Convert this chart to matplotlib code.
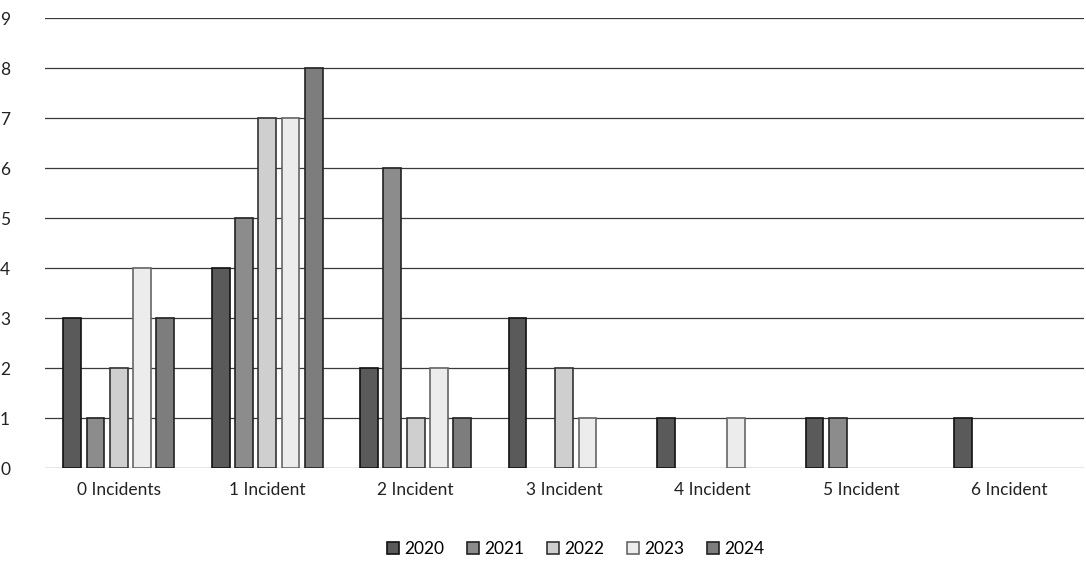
import numpy as np
import matplotlib
matplotlib.use("Agg")
import matplotlib.pyplot as plt

categories = ["0 Incidents", "1 Incident", "2 Incident", "3 Incident",
              "4 Incident", "5 Incident", "6 Incident"]
years = ["2020", "2021", "2022", "2023", "2024"]
v2020 = [3, 4, 2, 3, 1, 1, 1]
v2021 = [1, 5, 6, 0, 0, 1, 0]
v2022 = [2, 7, 1, 2, 0, 0, 0]
v2023 = [4, 7, 2, 1, 1, 0, 0]
v2024 = [3, 8, 1, 0, 0, 0, 0]
series = [v2020, v2021, v2022, v2023, v2024]

fills = ["#5a5a5a", "#8c8c8c", "#cfcfcf", "#ececec", "#7d7d7d"]
edges = ["#111111", "#222222", "#333333", "#666666", "#222222"]

plt.rcParams["font.family"] = ["Lato", "DejaVu Sans"]
fig = plt.figure(figsize=(10.86, 5.66), dpi=100)
ax = fig.add_axes([0.041, 0.173, 0.957, 0.795])

x = np.arange(len(categories))
step = 0.157
width = 0.12
for i, (vals, yr) in enumerate(zip(series, years)):
    # zero-height bars are not drawn at all (no outline on the baseline)
    h = np.array(vals, dtype=float)
    h[h == 0] = np.nan
    ax.bar(x + (i - 2) * step, h, width, color=fills[i], edgecolor=edges[i],
           linewidth=1.2, label=yr, zorder=3)

ax.set_xlim(-0.5, 6.5)
ax.set_ylim(0, 9)
ax.set_yticks(range(10))
ax.yaxis.grid(True, color="#3a3a3a", lw=0.9, zorder=0)
ax.set_xticks(x)
ax.set_xticklabels(categories)
ax.tick_params(axis="both", length=0, labelsize=12.5, colors="#222222")
ax.tick_params(axis="x", pad=10)
ax.tick_params(axis="y", pad=32)
for lab in ax.get_yticklabels():
    lab.set_horizontalalignment("left")
for s in ax.spines.values():
    s.set_visible(False)

fig.legend(loc="lower center", bbox_to_anchor=(0.53, -0.012), ncol=5, frameon=False,
           fontsize=12.5, handlelength=0.7, handleheight=0.7, handletextpad=0.3,
           columnspacing=1.3)
fig.savefig("out.png", dpi=100)
